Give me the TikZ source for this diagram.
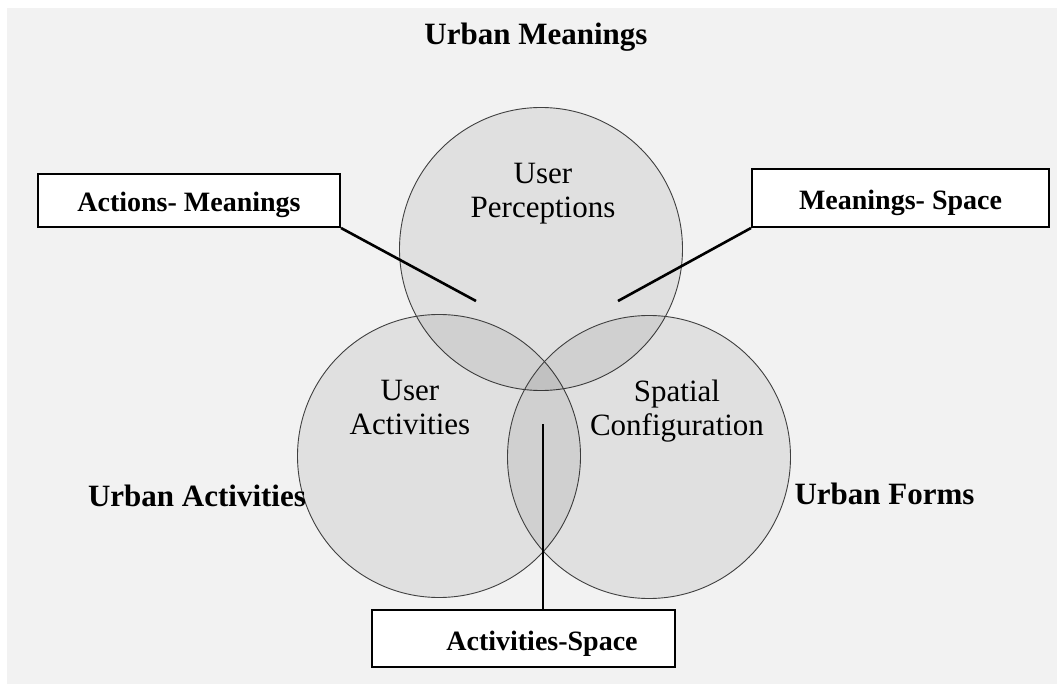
\documentclass[tikz,border=0pt]{standalone}
\usepackage{fontspec}
\setmainfont{Liberation Serif}
\usetikzlibrary{calc}
\usetikzlibrary{positioning}

\tikzset{
  venn/.style={circle, draw=black!75, line width=0.9pt, fill=black, fill opacity=0.07, minimum size=283pt, inner sep=0pt},
  realm/.style={font=\fontsize{31}{34}\selectfont\bfseries, anchor=base},
  inside/.style={font=\fontsize{31}{34}\selectfont, align=center, text=black},
  pairbox/.style={draw, line width=2pt, fill=white, font=\fontsize{28}{30}\selectfont\bfseries, text height=23pt, text depth=0pt},
  lead/.style={line width=2.6pt}
}

\begin{document}
\begin{tikzpicture}[x=1pt, y=-1pt]
\useasboundingbox (0,0) rectangle (1057,684);
\path[fill=black!5] (7,8) rectangle (1057,684);

\node[venn] at(541,249) (meanings) {};
\node[venn] at(439,456) (activities) {};
\node[venn] at(649,457) (forms) {};

\node[inside] at(543,194) (perc) {User\\Perceptions};
\node[inside] at(410,408) (useract) {User\\Activities};
\node[inside] at(677,411) (spatial) {Spatial\\Configuration};

\node[realm] at(536,45) (um) {Urban Meanings};
\node[realm] at(197,506) (ua) {Urban Activities};
\node[realm] at(884.5,504) (uf) {Urban Forms};

\node[pairbox, minimum width=302pt, minimum height=53pt] at(189,200.5) (am) {Actions- Meanings};
\node[pairbox, minimum width=297pt, minimum height=58pt] at(900.5,198) (ms) {Meanings- Space};
\node[pairbox, minimum width=303pt, minimum height=57pt] at(523.5,638.5) (as) {\hspace*{37pt}Activities-Space};

\coordinate (amtip) at (476,301);
\coordinate (mstip) at (618,301);
\coordinate (astip) at (543,424);

\path[draw, lead] (am.south east) -- (amtip);
\path[draw, lead] (ms.south west) -- (mstip);
\path[draw, lead] (astip |- as.north) -- (astip);
\end{tikzpicture}
\end{document}
